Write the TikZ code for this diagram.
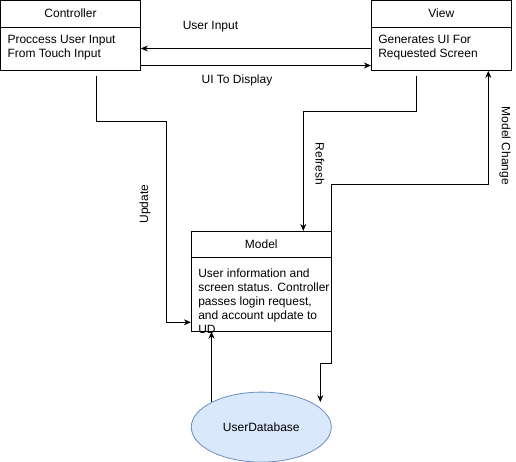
\documentclass[tikz,border=0pt]{standalone}
\usepackage{fontspec}
\setmainfont{Liberation Sans}
\usetikzlibrary{arrows.meta,calc,positioning,shapes}
\definecolor{dbfill}{RGB}{218,232,252}
\definecolor{dbline}{RGB}{108,142,191}

\begin{document}
\begin{tikzpicture}[x=1pt,y=1pt,>={Stealth[length=7pt,width=6pt]},line width=0.8pt,font=\fontsize{12pt}{14pt}\selectfont]
	\tikzstyle{block} = [draw, rectangle, minimum width=140pt, minimum height=70pt, inner sep=0pt]
	\tikzstyle{body} = [anchor=north west, align=left, inner sep=3pt]
	\useasboundingbox (0,0) rectangle (516,-461);

	\node [block] (ctrl) at (70.5,-35.5) {};
	\node [block, right = 230pt of ctrl] (view) {};
	\node [block, minimum height=100pt, below right = 160pt and 50pt of ctrl] (model) {};
	\node [draw=dbline, fill=dbfill, ellipse, minimum width=140pt, minimum height=70pt, below = 60pt of model] (db) {UserDatabase};

	\draw ([yshift=-27pt]ctrl.north west) -- ([yshift=-27pt]ctrl.north east);
	\draw ([yshift=-27pt]view.north west) -- ([yshift=-27pt]view.north east);
	\draw ([yshift=-26pt]model.north west) -- ([yshift=-26pt]model.north east);

	\node (ctrltitle) at ([yshift=-13.5pt]ctrl.north) {Controller};
	\node (viewtitle) at ([yshift=-13.5pt]view.north) {View};
	\node (modeltitle) at ([yshift=-13pt]model.north) {Model};

	\node [body] (ctrlbody) at ([xshift=4pt,yshift=-32pt]ctrl.north west) {Proccess User Input\\From Touch Input};
	\node [body] (viewbody) at ([xshift=4pt,yshift=-32pt]view.north west) {Generates UI For\\Requested Screen};
	\node [body] (modelbody) at ([xshift=4pt,yshift=-34pt]model.north west) {User information and\\screen status. Controller\\passes login request,\\and account update to\\UD};

	\node (inlbl) at (210.5,-27) {User Input};
	\node (outlbl) at (237,-80) {UI To Display};
	\node [rotate=90] (updlbl) at (145,-204) {Update};
	\node [rotate=-90] (reflbl) at (320,-164) {Refresh};
	\node [rotate=-90] (chglbl) at (505,-146) {Model Change};

	\draw [->] ([yshift=-13pt]view.west) -- ([yshift=-13pt]ctrl.east);
	\draw [->] ([yshift=-30pt]ctrl.east) -- ([yshift=-30pt]view.west);
	\draw [->] ([xshift=26pt,yshift=-5pt]ctrl.south) -- ++(0,-45) -| ([xshift=-25pt,yshift=-41pt]model.west) -- ([yshift=-41pt]model.west);
	\draw [->] ([xshift=-25pt,yshift=-5pt]view.south) -- ++(0,-35) -| ([xshift=42pt]model.north);
	\draw [->] (model.north east) -- ++(0,47) -| ([xshift=47pt]view.south);
	\draw [->] (db.north west) -- (db.north west |- model.south);
	\draw [->] (model.south east) -- ++(0,-32) -| ([xshift=59pt,yshift=25pt]db.center);
\end{tikzpicture}
\end{document}
